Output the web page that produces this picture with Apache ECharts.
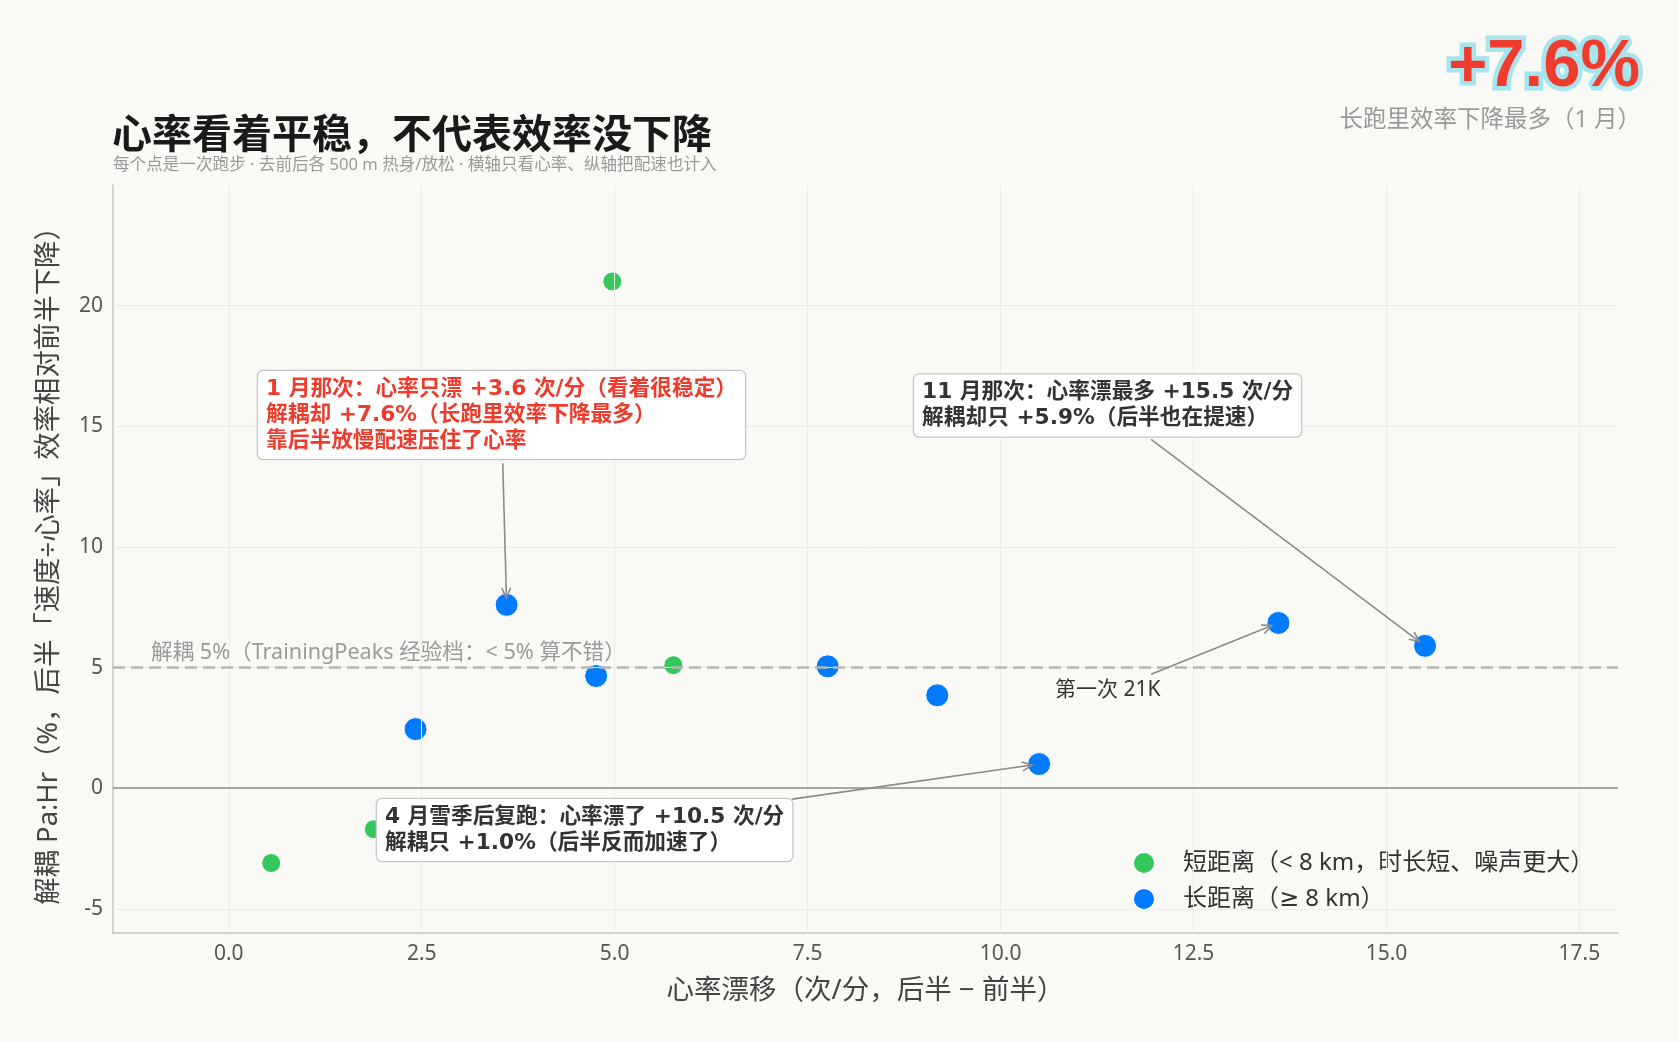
<!DOCTYPE html>
<html><head><meta charset="utf-8">
<script src="https://cdn.jsdelivr.net/npm/echarts@6/dist/echarts.min.js"></script>
<style>html,body{margin:0;padding:0;background:#f9f9f6;}#c{width:1679px;height:1042px;}</style>
</head><body><div id="c"></div>
<script>
// ---- data ----
const shortX = [0.55, 1.88, 4.97, 5.76];
const shortY = [-3.1, -1.7, 21.0, 5.1];
const longX = [2.42, 3.6, 4.76, 7.76, 9.18, 10.5, 13.6, 15.5];
const longY = [2.45, 7.6, 4.65, 5.05, 3.85, 1.0, 6.85, 5.9];
const xTicks = [0, 2.5, 5, 7.5, 10, 12.5, 15, 17.5];
const yTicks = [-5, 0, 5, 10, 15, 20];
const threshold = 5;
const seriesNames = ['短距离（< 8 km，时长短、噪声更大）', '长距离（≥ 8 km）'];
const thresholdLabel = '解耦 5%（TrainingPeaks 经验档：< 5% 算不错）';
const annoTexts = [
  '1 月那次：心率只漂 +3.6 次/分（看着很稳定）\n解耦却 +7.6%（长跑里效率下降最多）\n靠后半放慢配速压住了心率',
  '11 月那次：心率漂最多 +15.5 次/分\n解耦却只 +5.9%（后半也在提速）',
  '4 月雪季后复跑：心率漂了 +10.5 次/分\n解耦只 +1.0%（后半反而加速了）',
  '第一次 21K'
];
const annoTargets = [1, 7, 5, 6]; // index into long series

const CJK = '"Noto Sans CJK SC"';
const BASE = '"Noto Sans", "DejaVu Sans", ' + CJK + ', sans-serif';
const BOLDF = '"DejaVu Sans", ' + CJK + ', sans-serif';

const chart = echarts.init(document.getElementById('c'), null, {renderer: 'canvas'});

const gridLines = xTicks.map(v => ({xAxis: v})).concat(yTicks.map(v => ({yAxis: v})));

chart.setOption({
  animation: false,
  backgroundColor: '#f9f9f6',
  textStyle: {fontFamily: BASE},
  title: [
    {text: '心率看着平稳，不代表效率没下降', left: 112, top: 108, padding: 0,
     textStyle: {fontSize: 40, fontWeight: 'bold', color: '#1a1a1a', fontFamily: CJK, lineHeight: 50}},
    {text: '每个点是一次跑步 · 去前后各 500 m 热身/放松 · 横轴只看心率、纵轴把配速也计入', left: 113, top: 155, padding: 0,
     textStyle: {fontSize: 16.6, fontWeight: 'normal', color: '#9a9a9a', lineHeight: 20}},
    {text: '+7.6%', right: 30, top: 31, padding: 0,
     textStyle: {fontSize: 67, fontWeight: 'bold', fontFamily: '"Liberation Sans", Arial, sans-serif', color: '#f03c2e',
       textBorderColor: '#a6e5ee', textBorderWidth: 9, lineHeight: 74}},
    {text: '长跑里效率下降最多（1 月）', right: 38, top: 106, padding: 0,
     textStyle: {fontSize: 23.5, fontWeight: 'normal', color: '#999', lineHeight: 28}}
  ],
  grid: {left: 113, right: 61, top: 185, bottom: 109},
  legend: {
    orient: 'vertical', left: 1127, top: 845, itemWidth: 22, itemHeight: 22, itemGap: 10,
    icon: 'circle', data: seriesNames,
    textStyle: {fontSize: 24, color: '#333', lineHeight: 26, padding: [0, 0, 0, 23]}
  },
  xAxis: {
    type: 'value', min: -1.5, max: 18,
    axisLine: {onZero: false, lineStyle: {color: '#c4c4c4', width: 1.5}},
    axisTick: {show: false}, splitLine: {show: false},
    axisLabel: {customValues: xTicks, formatter: v => v.toFixed(1), fontSize: 21, color: '#555', margin: 11},
    name: '心率漂移（次/分，后半 − 前半）', nameLocation: 'middle', nameGap: 44,
    nameTextStyle: {fontSize: 27.5, color: '#444'}
  },
  yAxis: {
    type: 'value', min: -6, max: 25,
    axisLine: {onZero: false, lineStyle: {color: '#c4c4c4', width: 1.5}},
    axisTick: {show: false}, splitLine: {show: false},
    axisLabel: {customValues: yTicks, fontSize: 21, color: '#555', margin: 10},
    name: '解耦 Pa:Hr（%，后半「速度÷心率」效率相对前半下降）', nameLocation: 'middle', nameGap: 50,
    nameTextStyle: {fontSize: 27.4, color: '#444'}
  },
  series: [
    {type: 'scatter', name: '_grid', data: [], z: 1, silent: true,
     markLine: {silent: true, symbol: 'none', label: {show: false}, animation: false,
       lineStyle: {color: '#ebebe8', width: 1, type: 'solid'}, data: gridLines}},
    {type: 'scatter', name: '_ref', data: [], z: 2, silent: true,
     markLine: {silent: true, symbol: 'none', animation: false, data: [
       {yAxis: 0, lineStyle: {color: '#8c8c8c', width: 1.5, type: 'solid'}, label: {show: false}},
       {yAxis: threshold, lineStyle: {color: '#b6b6b6', width: 2.5, type: [12, 6]},
        label: {show: true, position: 'insideStartTop', formatter: thresholdLabel, color: '#9a9a9a', fontSize: 21.6, distance: [38, 4]}}
     ]}},
    {type: 'scatter', name: seriesNames[0], z: 3, symbolSize: 19,
     itemStyle: {color: '#34c759', borderColor: '#ffffff', borderWidth: 1, opacity: 1},
     data: shortX.map((x, i) => [x, shortY[i]])},
    {type: 'scatter', name: seriesNames[1], z: 4, symbolSize: 23,
     itemStyle: {color: '#007aff', borderColor: '#ffffff', borderWidth: 1, opacity: 1},
     data: longX.map((x, i) => [x, longY[i]])}
  ]
});

// ---- annotations (layout positions in data space) ----
const annoLayout = [
  {anchor: [0.38, 15.47], align: 'left', from: [3.55, 13.47], color: '#ef3b2c', boxed: true},
  {anchor: [8.88, 15.86], align: 'left', from: [11.95, 14.46], color: '#333', boxed: true},
  {anchor: [1.92, -1.73], align: 'left', from: [7.30, -0.45], color: '#333', boxed: true},
  {anchor: [11.39, 4.08], align: 'center', from: [11.95, 4.72], color: '#333', boxed: false}
];
const px = (x, y) => chart.convertToPixel({gridIndex: 0}, [x, y]);
const graphics = [];
annoLayout.forEach((a, i) => {
  const p = px(a.anchor[0], a.anchor[1]);
  const ti = annoTargets[i];
  const s = px(a.from[0], a.from[1]);
  const t = px(longX[ti], longY[ti]);
  const dx = t[0] - s[0], dy = t[1] - s[1];
  const L = Math.hypot(dx, dy);
  const ux = dx / L, uy = dy / L;
  const shrink = 7;
  const ex = t[0] - ux * shrink, ey = t[1] - uy * shrink;
  const hl = 10, hw = 4.5;
  const bx = ex - ux * hl, by = ey - uy * hl;
  graphics.push({type: 'line', z: 90, silent: true,
    shape: {x1: s[0], y1: s[1], x2: ex, y2: ey},
    style: {stroke: '#8a8a8a', lineWidth: 1.6}});
  graphics.push({type: 'polyline', z: 90, silent: true,
    shape: {points: [[bx - uy * hw, by + ux * hw], [ex, ey], [bx + uy * hw, by - ux * hw]]},
    style: {stroke: '#8a8a8a', lineWidth: 1.6, fill: null}});
  const st = {
    text: annoTexts[i], fill: a.color, fontSize: a.boxed ? 21.7 : 21,
    fontWeight: a.boxed ? 'bold' : 'normal',
    fontFamily: a.boxed ? BOLDF : BASE,
    align: a.align, textAlign: a.align, verticalAlign: 'middle', textVerticalAlign: 'middle',
    lineHeight: 26
  };
  if (a.boxed) {
    Object.assign(st, {backgroundColor: '#ffffff', borderColor: '#c6c6c6', borderWidth: 1.3,
      borderRadius: 5, padding: [5, 8, 5, 8]});
  }
  graphics.push({type: 'text', z: 100, silent: true, x: p[0], y: p[1], style: st});
});
chart.setOption({graphic: graphics});
</script>
</body></html>
